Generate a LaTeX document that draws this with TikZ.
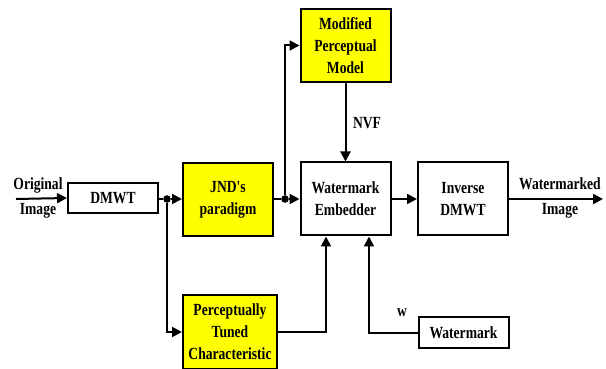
\documentclass[tikz,border=0pt]{standalone}
\usepackage{fontspec}
\newfontfamily\blockfont{Liberation Serif}[FakeStretch=0.8, BoldFont={Liberation Serif Bold}, BoldFeatures={FakeStretch=0.8}]
\usepackage{xcolor}
\definecolor{hilite}{HTML}{FFFF00}
\usepackage{tikz}
\usetikzlibrary{arrows.meta,positioning}

\begin{document}
\begin{tikzpicture}[x=0.5pt, y=-0.5pt,
    font=\blockfont\bfseries\fontsize{8.5pt}{11pt}\selectfont,
    block/.style={draw, line width=1pt, align=center, inner sep=1pt, minimum width=45pt},
    tall/.style={block, minimum height=36.5pt},
    flat/.style={block, minimum height=15pt},
    yellowblock/.style={tall, fill=hilite},
    flow/.style={line width=1pt, -{Triangle[length=5pt, width=5pt]}},
    wire/.style={line width=1pt},
    junction/.style={circle, fill=black, inner sep=0pt, minimum size=3.8pt}]
  \useasboundingbox (0,0) rectangle (606,369);

  % Blocks
  \node[flat] (dmwt) at (113,198) {DMWT};
  \node[yellowblock] (jnd) at (228,199.5) {JND's\\paradigm};
  \node[yellowblock] (mpm) at (345.5,45.5) {Modified\\Perceptual\\Model};
  \node[tall] (embed) at (345.5,199) {Watermark\\Embedder};
  \node[tall] (invdmwt) at (463,199) {Inverse\\DMWT};
  \node[yellowblock, minimum width=47pt] (ptc) at (230,332) {Perceptually\\Tuned\\Characteristic};
  \node[flat] (mark) at (463.5,332.5) {Watermark};

  % Junctions and free ends
  \coordinate (in) at (16,199);
  \coordinate (out) at (603,199);
  \node[junction] (jA) at (167,199) {};
  \node[junction] (jB) at (285,199) {};

  % Main path
  \draw[flow] (in) -- (dmwt.west);
  \draw[wire] (dmwt.east |- jA) -- (jA);
  \draw[flow] (jA) -- (jnd.west |- jA);
  \draw[wire] (jnd.east |- jB) -- (jB);
  \draw[flow] (jB) -- (embed.west |- jB);
  \draw[flow] (embed.east) -- (invdmwt.west);
  \draw[flow] (invdmwt.east) -- (out);

  % Side branches
  \draw[flow] (jA) |- (ptc.west);
  \draw[flow] (jB) |- (mpm.west);
  \draw[flow] (mpm.south) -- (embed.north);
  \draw[flow] (ptc.east) -| ([xshift=-9.75pt]embed.south);
  \draw[flow] (mark.west) -| ([xshift=11.75pt]embed.south);

  % Labels
  \node (lorig) at (38,185) {Original};
  \node (limg) at (38,211) {Image};
  \node (lwm) at (560,184) {Watermarked};
  \node (lwimg) at (560,211) {Image};
  \node (lnvf) at (367,123) {NVF};
  \node (lw) at (402,313) {w};
\end{tikzpicture}
\end{document}
